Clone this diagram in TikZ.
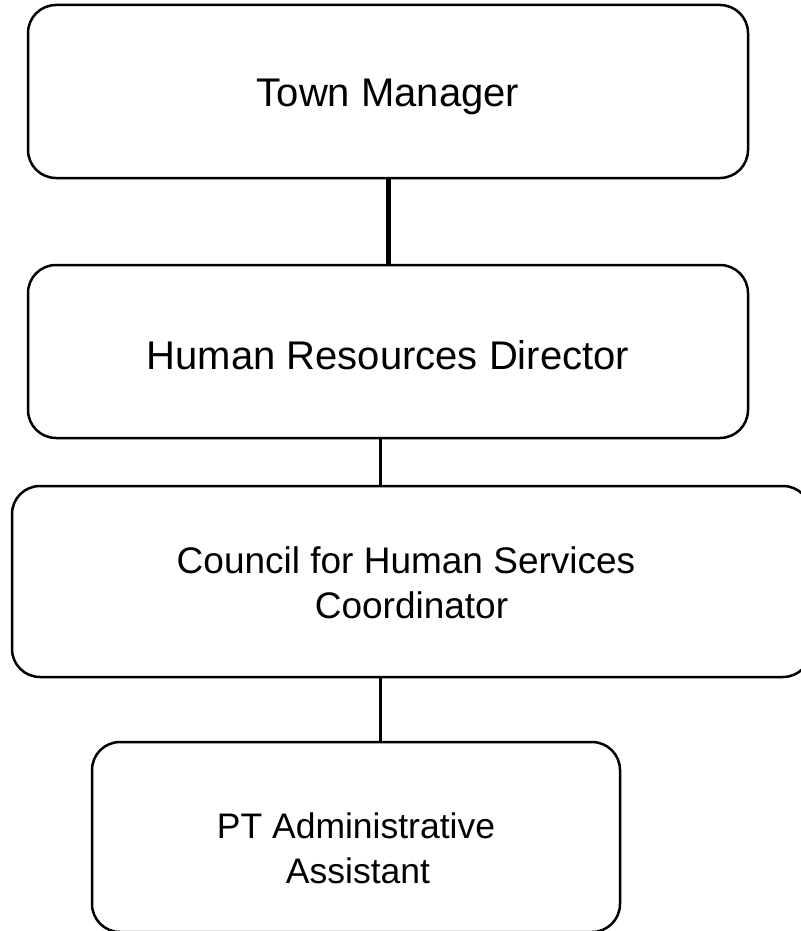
\documentclass[tikz,border=0pt]{standalone}
\usepackage{fontspec}
\setmainfont{Liberation Sans}
\begin{document}
\begin{tikzpicture}[x=0.5pt,y=-0.5pt,
  orgbox/.style={draw=black,line width=1.25pt,rounded corners=14pt,fill=white,
    align=center,font=\fontsize{20}{23}\selectfont,inner sep=0pt,text depth=0pt},
  thicklink/.style={line width=2.5pt},
  thinlink/.style={line width=1.5pt}]
\useasboundingbox (0,0) rectangle (801,931);
\clip (0,0) rectangle (801,931);
\node[orgbox,minimum width=360pt,minimum height=86.5pt,text height=15.5pt] (tm) at (388,91.5) {Town Manager};
\node[orgbox,minimum width=360pt,minimum height=86.5pt,text height=18pt] (hr) at (388,351.5) {Human Resources Director};
\node[orgbox,minimum width=399.5pt,minimum height=95.5pt,text height=36.5pt,
  font=\fontsize{18.5}{22.5}\selectfont] (chs) at (411.5,581.5) {Council for Human Services\hspace*{5.5pt}\\Coordinator};
\node[orgbox,minimum width=264pt,minimum height=95pt,text height=46pt,
  font=\fontsize{17.75}{22.5}\selectfont] (pt) at (356,837) {PT Administrative\\ \hspace*{2pt}Assistant};
\coordinate (c1) at (380,0);
\draw[thicklink] (tm.south) -- (hr.north);
\draw[thinlink] (hr.south -| c1) -- (chs.north -| c1);
\draw[thinlink] (chs.south -| c1) -- (pt.north -| c1);
\end{tikzpicture}
\end{document}
